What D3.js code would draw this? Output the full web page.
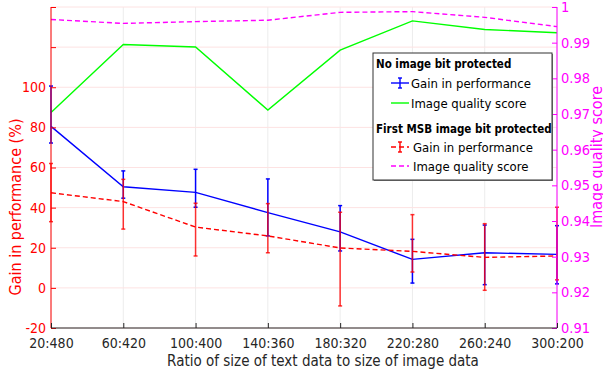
<!DOCTYPE html>
<html>
<head>
<meta charset="utf-8">
<script src="https://cdn.jsdelivr.net/npm/d3@7/dist/d3.min.js"></script>
<style>
  html, body { margin: 0; padding: 0; background: #fff; }
  svg { display: block; }
</style>
</head>
<body>
<div id="chart"></div>
<script>
// --- DATA ---
const categories = ["20:480", "60:420", "100:400", "140:360", "180:320", "220:280", "260:240", "300:200"];

// No image bit protected
const gainNone   = [80.5, 50.4, 47.6, 37.5, 27.9, 14.2, 17.5, 16.7];
const gainNoneLo = [72.2, 44.7, 40.2, 25.9, 18.4, 2.4, 1.6, 2.0];
const gainNoneHi = [100.6, 58.3, 59.1, 54.3, 41.0, 24.2, 31.3, 31.0];
const qualityNone = [0.9704, 0.9895, 0.9888, 0.9711, 0.9879, 0.9961, 0.9937, 0.9928];

// First MSB image bit protected
const gainMsb   = [47.4, 43.0, 30.3, 25.9, 19.9, 18.2, 15.2, 15.9];
const gainMsbLo = [33.0, 29.3, 15.9, 17.5, -9.0, 7.9, -1.2, 4.0];
const gainMsbHi = [62.0, 54.1, 42.2, 42.0, 37.7, 36.5, 32.0, 40.2];
const qualityMsb = [0.9965, 0.9954, 0.9959, 0.9963, 0.9985, 0.9987, 0.9971, 0.9945];

const leftTicks = [-20, 0, 20, 40, 60, 80, 100, 120, 140];
const leftLabelled = [-20, 0, 20, 40, 60, 80, 100];
const rightTicks = [0.91, 0.92, 0.93, 0.94, 0.95, 0.96, 0.97, 0.98, 0.99, 1];

// --- LAYOUT ---
const WIDTH = 603, HEIGHT = 374;
const PLOT = { left: 51, right: 557, top: 7, bottom: 328 };
const FONT = "'DejaVu Sans Condensed', 'DejaVu Sans', sans-serif";

const svg = d3.select("#chart").append("svg")
    .attr("width", WIDTH).attr("height", HEIGHT)
    .style("background", "#fff")
    .style("font-family", FONT);

const x = d3.scalePoint().domain(categories).range([PLOT.left, PLOT.right]);
const yL = d3.scaleLinear().domain([-20, 140]).range([PLOT.bottom, PLOT.top]);
const yR = d3.scaleLinear().domain([0.91, 1]).range([PLOT.bottom, PLOT.top]);

// grid
svg.append("g").selectAll("line").data(categories).join("line")
    .attr("x1", d => x(d)).attr("x2", d => x(d))
    .attr("y1", PLOT.top).attr("y2", PLOT.bottom)
    .attr("stroke", "#ececec").attr("stroke-width", 1);
svg.append("g").selectAll("line").data(leftTicks).join("line")
    .attr("x1", PLOT.left).attr("x2", PLOT.right)
    .attr("y1", d => yL(d)).attr("y2", d => yL(d))
    .attr("stroke", "#fde2e2").attr("stroke-width", 1);

// --- SERIES ---
const idx = d3.range(categories.length);

function errorBars(lo, hi, color, opacity) {
    const g = svg.append("g").attr("stroke", color).attr("stroke-width", 1.5).attr("stroke-opacity", opacity);
    g.selectAll("line.v").data(idx).join("line").attr("class", "v")
        .attr("x1", i => x(categories[i])).attr("x2", i => x(categories[i]))
        .attr("y1", i => yL(lo[i])).attr("y2", i => yL(hi[i]));
    [lo, hi].forEach(arr => {
        g.selectAll(null).data(idx).join("line")
            .attr("x1", i => x(categories[i]) - 2).attr("x2", i => x(categories[i]) + 2)
            .attr("y1", i => yL(arr[i])).attr("y2", i => yL(arr[i]));
    });
}

const lineL = d3.line().x((d, i) => x(categories[i])).y(d => yL(d));
const lineR = d3.line().x((d, i) => x(categories[i])).y(d => yR(d));

// quality lines (right axis)
svg.append("path").datum(qualityNone).attr("d", lineR)
    .attr("fill", "none").attr("stroke", "#00ff00").attr("stroke-width", 1.4);
svg.append("path").datum(qualityMsb).attr("d", lineR)
    .attr("fill", "none").attr("stroke", "#ff00ff").attr("stroke-width", 1.4)
    .attr("stroke-dasharray", "5,3");

// gain, no protection
errorBars(gainNoneLo, gainNoneHi, "#0000ff", 1);
svg.append("path").datum(gainNone).attr("d", lineL)
    .attr("fill", "none").attr("stroke", "#0000ff").attr("stroke-width", 1.4);

// gain, first MSB protected
errorBars(gainMsbLo, gainMsbHi, "#ff0000", 0.8);
svg.append("path").datum(gainMsb).attr("d", lineL)
    .attr("fill", "none").attr("stroke", "#ff0000").attr("stroke-width", 1.4)
    .attr("stroke-dasharray", "5,3");

// --- AXES ---
const axL = svg.append("g").attr("transform", `translate(${PLOT.left},0)`)
    .call(d3.axisLeft(yL).tickValues(leftTicks).tickSize(-5).tickPadding(5)
        .tickFormat(d => leftLabelled.includes(d) ? d : ""));
axL.select(".domain").attr("stroke", "#ff0000").attr("d", `M0,${PLOT.top}V${PLOT.bottom}`);
axL.selectAll(".tick line").attr("stroke", "#ff0000");
axL.selectAll("text").attr("fill", "#ff0000").style("font-size", "14px").style("font-family", FONT);

const axR = svg.append("g").attr("transform", `translate(${PLOT.right},0)`)
    .call(d3.axisRight(yR).tickValues(rightTicks).tickSize(-5).tickPadding(4)
        .tickFormat(d => d === 1 ? "1" : d3.format(".2f")(d)));
axR.select(".domain").attr("stroke", "#ff00ff").attr("d", `M0,${PLOT.top}V${PLOT.bottom}`);
axR.selectAll(".tick line").attr("stroke", "#ff00ff");
axR.selectAll("text").attr("fill", "#ff00ff").style("font-size", "14.5px").style("font-family", FONT);

const axB = svg.append("g").attr("transform", `translate(0,${PLOT.bottom})`)
    .call(d3.axisBottom(x).tickSize(-5).tickPadding(10));
axB.select(".domain").attr("stroke", "#262626").attr("d", `M${PLOT.left},0H${PLOT.right}`);
axB.selectAll(".tick line").attr("stroke", "#262626");
axB.selectAll("text").attr("fill", "#262626").style("font-size", "14px").style("font-family", FONT);

// axis titles
svg.append("text")
    .attr("x", 323).attr("y", 366).attr("text-anchor", "middle")
    .attr("fill", "#262626").style("font-size", "15px")
    .text("Ratio of size of text data to size of image data");
svg.append("text")
    .attr("transform", "translate(21,207) rotate(-90)").attr("text-anchor", "middle")
    .attr("fill", "#ff0000").style("font-size", "16px")
    .text("Gain in performance (%)");
svg.append("text")
    .attr("transform", "translate(602,157) rotate(-90)").attr("text-anchor", "middle")
    .attr("fill", "#ff00ff").style("font-size", "16px")
    .text("Image quality score");

// --- LEGEND ---
const lg = svg.append("g").attr("transform", "translate(373,53)");
lg.append("rect").attr("x", 1).attr("y", 1).attr("width", 179).attr("height", 127).attr("fill", "#808080");
lg.append("rect").attr("width", 179).attr("height", 127)
    .attr("fill", "#fff").attr("stroke", "#333").attr("stroke-width", 1);

const legendRows = [
    { type: "title", text: "No image bit protected", y: 11 },
    { type: "err", color: "#0000ff", dash: null, text: "Gain in performance", y: 30, tx: 38 },
    { type: "line", color: "#00ff00", dash: null, text: "Image quality score", y: 50, tx: 38 },
    { type: "title", text: "First MSB image bit protected", y: 76 },
    { type: "err", color: "#ff0000", dash: "5,3", text: "Gain in performance", y: 94, tx: 40 },
    { type: "line", color: "#ff00ff", dash: "5,3", text: "Image quality score", y: 113, tx: 40 }
];
legendRows.forEach(r => {
    if (r.type === "title") {
        lg.append("text").attr("x", 3).attr("y", r.y).attr("dy", "0.35em")
            .style("font-size", "11.5px").style("font-weight", "bold").attr("fill", "#000").text(r.text);
        return;
    }
    lg.append("line").attr("x1", 18).attr("x2", 36).attr("y1", r.y).attr("y2", r.y)
        .attr("stroke", r.color).attr("stroke-width", 1.4).attr("stroke-dasharray", r.dash);
    if (r.type === "err") {
        const eg = lg.append("g").attr("stroke", r.color).attr("stroke-width", 1.4);
        eg.append("line").attr("x1", 27).attr("x2", 27).attr("y1", r.y - 5).attr("y2", r.y + 5);
        eg.append("line").attr("x1", 25).attr("x2", 29).attr("y1", r.y - 5).attr("y2", r.y - 5);
        eg.append("line").attr("x1", 25).attr("x2", 29).attr("y1", r.y + 5).attr("y2", r.y + 5);
    }
    lg.append("text").attr("x", r.tx).attr("y", r.y).attr("dy", "0.35em")
        .style("font-size", "13px").attr("fill", "#000").text(r.text);
});
</script>
</body>
</html>
